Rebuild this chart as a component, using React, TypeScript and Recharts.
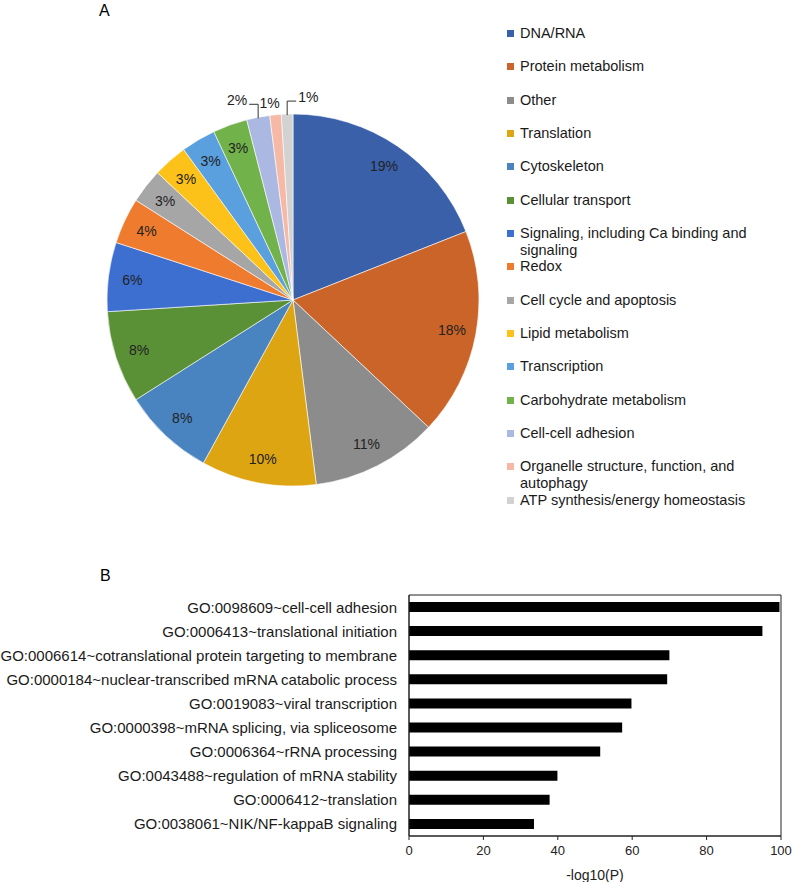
import React from 'react';
import {
  PieChart,
  Pie,
  Cell,
  Legend,
  BarChart,
  Bar,
  XAxis,
  YAxis,
  ReferenceArea,
  Label,
} from 'recharts';

// Panel A: functional categories (percent of proteins)
const categories = [
  'DNA/RNA',
  'Protein metabolism',
  'Other',
  'Translation',
  'Cytoskeleton',
  'Cellular transport',
  'Signaling, including Ca binding and signaling',
  'Redox',
  'Cell cycle and apoptosis',
  'Lipid metabolism',
  'Transcription',
  'Carbohydrate metabolism',
  'Cell-cell adhesion',
  'Organelle structure, function, and autophagy',
  'ATP synthesis/energy homeostasis',
];
const percents = [19, 18, 11, 10, 8, 8, 6, 4, 3, 3, 3, 3, 2, 1, 1];
const sliceColors = [
  '#3A60AA', '#CB6428', '#8C8C8C', '#DEA512', '#4A84C0',
  '#5B9136', '#3C6FD0', '#EF7C2E', '#A6A6A6', '#FDC21A',
  '#5A9FDE', '#72B24A', '#AAB8E2', '#F5B9A6', '#D2D2D2',
];

// Panel B: GO terms and -log10(P)
const goTerms = [
  'GO:0098609~cell-cell adhesion',
  'GO:0006413~translational initiation',
  'GO:0006614~cotranslational protein targeting to membrane',
  'GO:0000184~nuclear-transcribed mRNA catabolic process',
  'GO:0019083~viral transcription',
  'GO:0000398~mRNA splicing, via spliceosome',
  'GO:0006364~rRNA processing',
  'GO:0043488~regulation of mRNA stability',
  'GO:0006412~translation',
  'GO:0038061~NIK/NF-kappaB signaling',
];
const logP = [99.6, 95.0, 70.0, 69.4, 59.8, 57.3, 51.4, 39.9, 37.8, 33.6];
const xTicks = [0, 20, 40, 60, 80, 100];

const FONT = '"Liberation Sans", Arial, sans-serif';
const RAD = Math.PI / 180;

const pieData = categories.map((name, i) => ({ name, value: percents[i] }));
const barData = goTerms.map((term, i) => ({ term, value: logP[i] }));

// inside labels for big slices, bracket call-outs for the tiny ones at the top
const renderPieLabel = (props: any) => {
  const { cx, cy, midAngle, outerRadius, value, index } = props;
  const cos = Math.cos(-midAngle * RAD);
  const sin = Math.sin(-midAngle * RAD);
  if (value >= 3) {
    const r = outerRadius * 0.87;
    return (
      <text
        x={cx + r * cos}
        y={cy + r * sin}
        textAnchor="middle"
        dominantBaseline="central"
        fontSize={14}
        fontFamily={FONT}
        fill="#222"
      >
        {`${value}%`}
      </text>
    );
  }
  const px = cx + outerRadius * cos;
  const py = cy + outerRadius * sin;
  const firstSmall = percents.findIndex((p) => p < 3);
  const side = index === firstSmall ? -1 : index === percents.length - 1 ? 1 : 0;
  if (side === 0) {
    return (
      <text x={px - 6} y={py - 12} textAnchor="middle" dominantBaseline="central"
        fontSize={14} fontFamily={FONT} fill="#222">{`${value}%`}</text>
    );
  }
  const topY = py - 13;
  const endX = px + side * 9;
  return (
    <g>
      <polyline
        points={`${px},${py + 1} ${px},${topY} ${endX},${topY}`}
        fill="none"
        stroke="#333"
        strokeWidth={1}
      />
      <text
        x={endX + side * 2}
        y={topY - 4}
        textAnchor={side < 0 ? 'end' : 'start'}
        dominantBaseline="central"
        fontSize={14}
        fontFamily={FONT}
        fill="#222"
      >
        {`${value}%`}
      </text>
    </g>
  );
};

const PieLegend = () => (
  <div style={{ fontFamily: FONT, fontSize: 14.5, color: '#1a1a1a' }}>
    {categories.map((name, i) => (
      <div key={name} style={{ position: 'relative', height: 33.35 }}>
        <span
          style={{
            position: 'absolute',
            left: 0,
            top: 5,
            width: 7,
            height: 7,
            background: sliceColors[i],
          }}
        />
        <div style={{ position: 'absolute', left: 13, top: 0, width: 250, lineHeight: '16.5px' }}>
          {name}
        </div>
      </div>
    ))}
  </div>
);

const GoTick = (props: any) => {
  const { x, y, payload } = props;
  return (
    <text x={x} y={y} textAnchor="end" dominantBaseline="central"
      fontSize={15} fontFamily={FONT} fill="#1a1a1a">
      {payload.value}
    </text>
  );
};

export default function App() {
  return (
    <div style={{ position: 'absolute', left: 0, top: 0, width: 794, height: 882, background: '#fff' }}>
      <div style={{ position: 'absolute', left: 99, top: 2, fontFamily: FONT, fontSize: 16 }}>A</div>
      <div style={{ position: 'absolute', left: 100, top: 567, fontFamily: FONT, fontSize: 16 }}>B</div>

      <div style={{ position: 'absolute', left: 0, top: 0 }}>
        <PieChart width={794} height={530}>
          <Pie
            data={pieData}
            dataKey="value"
            nameKey="name"
            cx={288}
            cy={295}
            outerRadius={186}
            startAngle={90}
            endAngle={-270}
            stroke="#ffffff"
            strokeWidth={0.6}
            label={renderPieLabel}
            labelLine={false}
            isAnimationActive={false}
          >
            {pieData.map((d, i) => (
              <Cell key={d.name} fill={sliceColors[i]} />
            ))}
          </Pie>
          <Legend
            layout="vertical"
            content={() => <PieLegend />}
            wrapperStyle={{ left: 507, top: 25, width: 280 }}
          />
        </PieChart>
      </div>

      <div style={{ position: 'absolute', left: 0, top: 580 }}>
        <BarChart
          width={794}
          height={302}
          data={barData}
          layout="vertical"
          margin={{ top: 15, right: 13, bottom: 0, left: 0 }}
          barSize={10}
        >
          <XAxis
            type="number"
            domain={[0, 100]}
            ticks={xTicks}
            height={46}
            tickSize={4}
            tickMargin={6}
            stroke="#222"
            tick={{ fontSize: 13, fontFamily: FONT, fill: '#222' }}
          >
            <Label value="-log10(P)" position="insideBottom" offset={2}
              style={{ fontSize: 14, fontFamily: FONT, fill: '#222' }} />
          </XAxis>
          <YAxis
            type="category"
            dataKey="term"
            width={409}
            tickLine={false}
            tickMargin={6}
            stroke="#222"
            tick={<GoTick />}
            interval={0}
          />
          <ReferenceArea x1={0} x2={100} fill="none" stroke="#222" strokeWidth={1} />
          <Bar dataKey="value" fill="#000" isAnimationActive={false} />
        </BarChart>
      </div>
    </div>
  );
}
